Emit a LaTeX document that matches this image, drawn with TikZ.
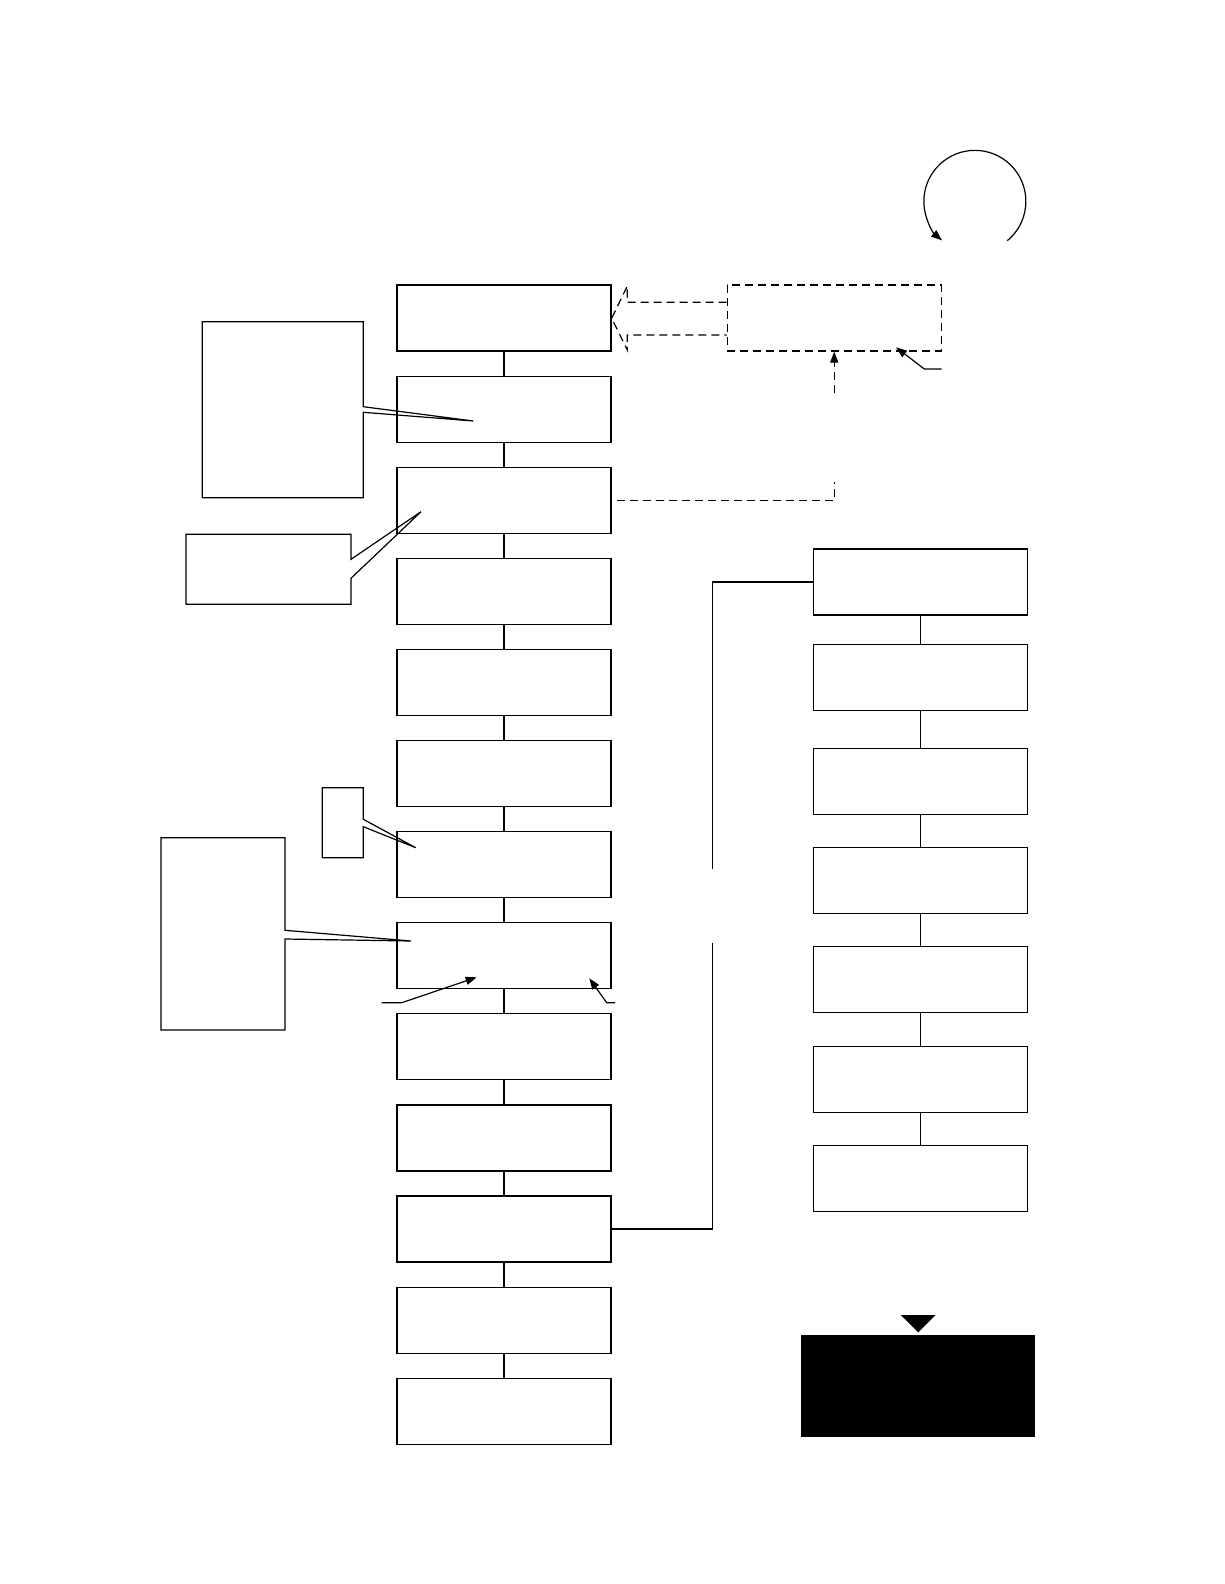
\documentclass[tikz,border=0pt]{standalone}
\usetikzlibrary{arrows.meta}
\begin{document}
\begin{tikzpicture}[x=1pt,y=-1pt, line width=1.2pt,
  box/.style={draw, rectangle, minimum width=214pt, minimum height=66pt, inner sep=0pt},
  dsh/.style={dash pattern=on 8pt off 5pt},
  tip/.style={-{Triangle[length=11pt,width=8pt]}}]
\useasboundingbox (0,0) rectangle (1224,1584);
% main column
\foreach \i in {0,...,12}{
  \node[box] (m\i) at (504, 285+91.1*\i+33) {};
}
\foreach \i in {0,...,11}{
  \pgfmathtruncatemacro\j{\i+1}
  \draw (m\i.south) -- (m\j.north);
}
% right column
\foreach \t [count=\k] in {549,644.3,748.3,847.3,946.3,1046.2,1145.2}{
  \node[box] (r\k) at (920.7,\t+33) {};
}
\foreach \k in {1,...,6}{
  \pgfmathtruncatemacro\j{\k+1}
  \draw (r\k.south) -- (r\j.north);
}
% link main box 11 to right column
\coordinate (g1) at (712.3,943);
\coordinate (g2) at (712.3,869);
\draw (m10.east) -- (m10.east -| g1) -- (g1);
\draw (g2) -- (g2 |- r1.west) -- (r1.west);
% dashed box and hollow arrow
\node[box, dsh] (d) at (834.2,318) {};
\draw[dsh] (726.7,302.3) -- (627.3,302.3) -- (627.3,286) -- (611.7,318.3) -- (627.3,350) -- (627.3,335) -- (726.7,335);
\coordinate (ds) at (617,500.6);
\coordinate (dc) at (834.2,500.6);
\coordinate (dv1) at (834.2,482);
\coordinate (dv2) at (834.2,393);
\draw[dsh] (ds) -- (dc) -- (dv1);
\draw[dsh, tip] (dv2) -- (d.south);
\coordinate (pa) at (941.7,369);
\draw[tip] (pa) -- (924.3,369) -- (896,347.3);
% circular arrow
\coordinate (cs) at (1007.3,240.7);
\draw[tip] (cs) arc[start angle=-50.5, end angle=230, radius=51pt];
% black box with triangle
\node[draw, fill=black, rectangle, minimum width=232pt, minimum height=101pt, inner sep=0pt] (blk) at (917.9,1386.2) {};
\fill (900.7,1315) -- (935.7,1315) -- (918.3,1332.3) -- cycle;
% arrows under box 8
\draw[tip] (381.7,1002.7) -- (401.7,1002.7) -- (476.7,977.3);
\draw[tip] (615,1002.7) -- (606.7,1002.7) -- (589.3,978.3);
% callouts
\draw (202.3,321.7) -- (363.3,321.7) -- (363.3,406.7) -- (473.3,421) -- (363.3,412.3) -- (363.3,497.7) -- (202.3,497.7) -- cycle;
\draw (186,534.3) -- (351,534.3) -- (351,559.3) -- (421,511.7) -- (351,578.3) -- (351,604.3) -- (186,604.3) -- cycle;
\draw (322.3,787.7) -- (363.3,787.7) -- (363.3,819.3) -- (415.7,847.7) -- (363.3,826.7) -- (363.3,857.7) -- (322.3,857.7) -- cycle;
\draw (161,837.7) -- (285,837.7) -- (285,930.3) -- (411,941) -- (285,939) -- (285,1030) -- (161,1030) -- cycle;
\end{tikzpicture}
\end{document}
